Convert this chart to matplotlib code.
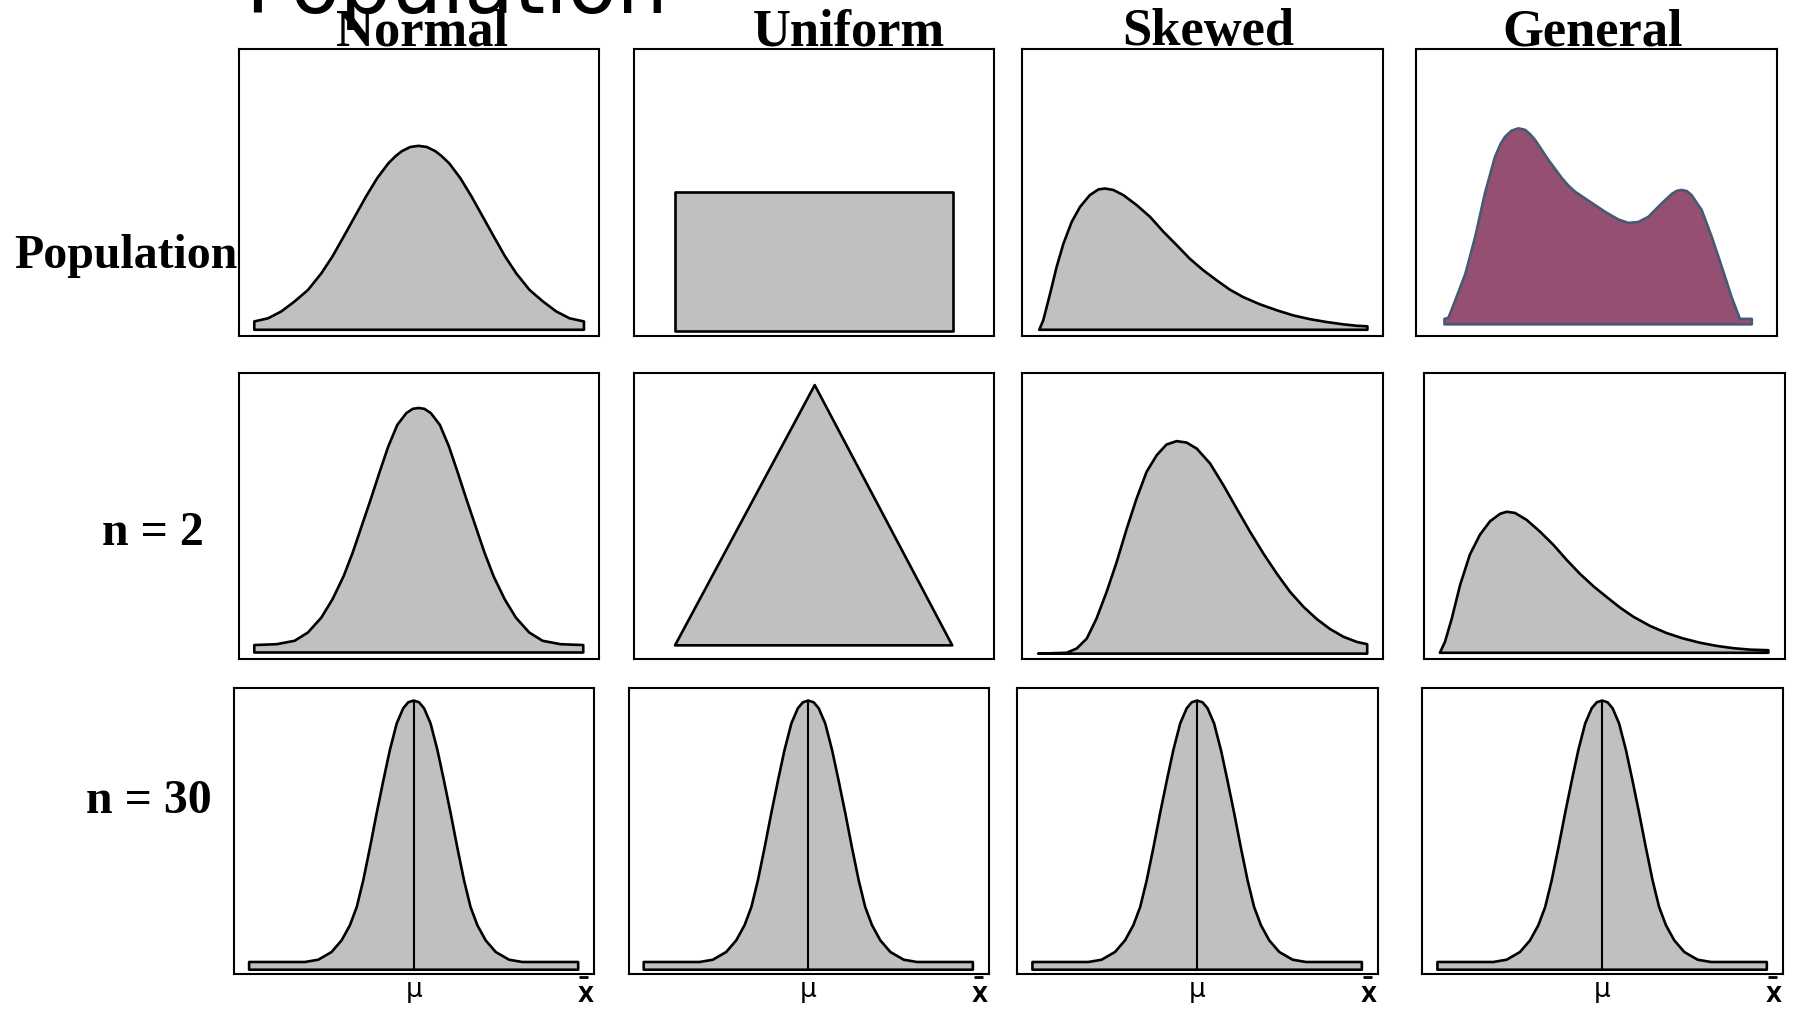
import matplotlib
matplotlib.use("Agg")

import matplotlib.pyplot as plt

# =========================================================
# DATA  (x = % of panel width, y = % of panel height)
# =========================================================

col_titles = ["Normal", "Uniform", "Skewed", "General"]
row_labels = ["Population", "n = 2", "n = 30"]
fig_title  = "Population"

# --- Population row ---
normal_pop_x = [4.3, 8.1, 11.8, 15.5, 19.2, 22.9, 26.0, 29.1, 32.2, 35.3, 38.4, 41.5,
                43.5, 45.2, 47.6, 49.9, 52.2, 54.6, 56.3, 58.4, 61.5, 64.6, 67.7,
                70.8, 73.9, 77.0, 80.7, 84.4, 88.1, 91.8, 95.8]
normal_pop_y = [4.9, 6.0, 8.4, 11.9, 15.9, 21.7, 27.6, 34.5, 41.5, 48.5, 54.9, 60.1,
                62.6, 64.3, 65.8, 66.2, 65.8, 64.3, 62.6, 60.1, 54.9, 48.5, 41.5,
                34.5, 27.6, 21.7, 15.9, 11.9, 8.4, 6.0, 4.9]
normal_pop_base = 2.0

uniform_pop_x = [11.5, 11.5, 88.6, 88.6]
uniform_pop_y = [1.7, 50.1, 50.1, 1.7]
uniform_pop_base = 1.7

skewed_pop_x = [4.7, 5.8, 7.7, 9.5, 11.4, 13.7, 16.0, 18.7, 21.1, 22.9, 25.2, 28.0,
                31.7, 35.4, 39.1, 42.8, 46.4, 50.1, 53.8, 57.5, 61.2, 65.8, 70.5,
                75.1, 79.7, 84.3, 88.9, 92.6, 95.6]
skewed_pop_y = [2.0, 5.3, 14.6, 23.9, 32.1, 39.7, 44.9, 49.0, 51.0, 51.3, 50.8, 49.0,
                45.5, 41.4, 36.2, 31.5, 26.8, 22.8, 19.3, 16.0, 13.4, 10.9, 8.8,
                7.0, 5.7, 4.7, 3.9, 3.4, 3.2]
skewed_pop_base = 2.0

general_pop_x = [7.9, 9.0, 10.9, 13.7, 16.4, 19.1, 21.9, 23.5, 24.7, 26.5, 28.4, 30.2,
                 31.6, 33.0, 36.7, 40.4, 42.2, 44.1, 48.7, 52.4, 56.1, 58.9, 61.6,
                 64.4, 68.1, 70.9, 72.3, 73.7, 75.1, 76.4, 79.2, 82.0, 84.8, 87.5,
                 89.8, 93.1]
general_pop_y = [5.8, 6.2, 12.3, 21.6, 34.4, 49.6, 62.4, 67.0, 69.4, 71.5, 72.3, 71.8,
                 70.3, 68.3, 61.3, 55.0, 52.4, 50.2, 46.3, 43.2, 40.5, 39.3, 39.6,
                 41.4, 46.1, 49.4, 50.5, 50.8, 50.4, 49.0, 43.8, 34.4, 23.9, 13.4,
                 5.8, 5.8]
general_pop_base = 3.9

# --- n = 2 row ---
normal_n2_x = [4.3, 10.5, 15.5, 19.2, 22.9, 26.0, 29.1, 31.6, 34.1, 36.6, 39.0, 41.5,
               44.0, 46.5, 48.3, 49.9, 51.5, 53.3, 55.8, 58.3, 60.8, 63.2, 65.7,
               68.2, 70.7, 73.8, 76.9, 80.6, 84.3, 89.3, 95.6]
normal_n2_y = [4.7, 5.0, 6.2, 9.1, 14.3, 20.7, 28.8, 37.0, 46.3, 55.6, 64.9, 74.2,
               81.7, 85.8, 87.3, 87.6, 87.3, 85.8, 81.7, 74.2, 64.9, 55.6, 46.3,
               37.0, 28.8, 20.7, 14.3, 9.1, 6.2, 5.0, 4.7]
normal_n2_base = 2.1

uniform_n2_x = [11.4, 50.2, 88.4]
uniform_n2_y = [4.6, 95.6, 4.6]
uniform_n2_base = 4.6

skewed_n2_x = [4.4, 12.3, 15.1, 17.9, 20.6, 23.4, 26.2, 29.0, 31.7, 34.5, 37.3, 40.0,
               42.8, 45.6, 48.4, 52.1, 55.8, 59.5, 63.2, 66.9, 70.6, 74.3, 78.0,
               81.7, 85.4, 89.1, 92.8, 95.7]
skewed_n2_y = [1.7, 2.0, 3.5, 7.0, 14.0, 23.3, 33.8, 45.5, 55.9, 65.3, 71.1, 74.8,
               76.0, 75.5, 73.4, 68.2, 60.6, 52.4, 44.3, 36.7, 29.7, 23.3, 18.1,
               13.8, 10.3, 7.6, 5.8, 5.0]
skewed_n2_base = 1.7

general_n2_x = [4.4, 5.8, 7.7, 10.0, 12.7, 15.5, 18.3, 21.1, 22.9, 25.2, 28.4, 32.1,
                35.8, 39.5, 43.2, 46.9, 50.6, 54.3, 58.0, 62.6, 67.2, 71.8, 76.5,
                81.1, 85.7, 90.3, 95.4]
general_n2_y = [2.0, 5.8, 14.0, 25.7, 36.3, 43.3, 48.0, 50.6, 51.3, 50.9, 48.5, 44.4,
                39.8, 34.5, 29.6, 25.3, 21.5, 17.8, 14.6, 11.4, 8.9, 7.0, 5.5,
                4.4, 3.6, 3.1, 2.9]
general_n2_base = 2.0

# --- n = 30 row (same sampling distribution in every column) ---
n30_x = [4.2, 19.7, 23.4, 27.1, 29.9, 32.2, 34.1, 35.9, 37.8, 39.6, 41.5, 43.3, 45.2,
         47.0, 48.4, 49.9, 51.4, 52.8, 54.6, 56.5, 58.3, 60.2, 62.0, 63.9, 65.7,
         67.6, 69.9, 72.7, 76.4, 80.1, 95.6]
n30_y = [4.1, 4.1, 4.9, 7.6, 11.7, 17.0, 23.4, 32.7, 44.4, 56.1, 67.8, 78.4, 87.7,
         93.0, 95.1, 95.7, 95.1, 93.0, 87.7, 78.4, 67.8, 56.1, 44.4, 32.7, 23.4,
         17.0, 11.7, 7.6, 4.9, 4.1, 4.1]
n30_base = 1.4

curves = [
    [(normal_pop_x, normal_pop_y, normal_pop_base),
     (uniform_pop_x, uniform_pop_y, uniform_pop_base),
     (skewed_pop_x, skewed_pop_y, skewed_pop_base),
     (general_pop_x, general_pop_y, general_pop_base)],
    [(normal_n2_x, normal_n2_y, normal_n2_base),
     (uniform_n2_x, uniform_n2_y, uniform_n2_base),
     (skewed_n2_x, skewed_n2_y, skewed_n2_base),
     (general_n2_x, general_n2_y, general_n2_base)],
    [(n30_x, n30_y, n30_base)] * 4,
]

# =========================================================
# LAYOUT / STYLE (pixel boxes of the panels: left, right, top, bottom)
# =========================================================

W, H = 1797, 1017

panel_boxes = [
    [(238.8, 599.1, 49, 335.5), (634, 994, 49, 335.5),
     (1022.3, 1383.3, 49, 335.5), (1416, 1776.7, 49, 335.5)],
    [(238.8, 599.1, 372.5, 658.5), (634, 994, 372.5, 658.5),
     (1022.3, 1382.7, 372.5, 658.5), (1424, 1785, 372.5, 658.5)],
    [(234, 594, 688.3, 973.7), (628.6, 988.7, 688.3, 973.7),
     (1017.3, 1377.7, 688.3, 973.7), (1422.3, 1782.7, 688.3, 973.7)],
]

GRAY_FILL    = "#C0C0C0"
GENERAL_FILL = "#954F72"
GENERAL_EDGE = "#465A72"

title_cx      = [422, 849, 1208, 1593]
row_label_pos = [(14, 268, "left"), (153, 545, "center"), (149, 813, "center")]

SERIF = ["Liberation Serif", "DejaVu Serif"]


def fx(px):
    return px / W


def fy(py):
    return 1 - py / H


fig = plt.figure(figsize=(W / 100, H / 100), dpi=100)

for r, row in enumerate(panel_boxes):
    for c, (l, rr, t, b) in enumerate(row):
        ax = fig.add_axes([fx(l), fy(b), fx(rr) - fx(l), (b - t) / H])
        ax.set_xlim(0, 100)
        ax.set_ylim(0, 100)
        ax.set_xticks([])
        ax.set_yticks([])
        for s in ax.spines.values():
            s.set_linewidth(1.5)
            s.set_color("black")

        xs, ys, base = curves[r][c]
        px = [xs[0]] + list(xs) + [xs[-1]]
        py = [base] + list(ys) + [base]

        if r == 0 and c == 3:
            fc, ec = GENERAL_FILL, GENERAL_EDGE
        else:
            fc, ec = GRAY_FILL, "black"
        ax.fill(px, py, facecolor=fc, edgecolor=ec, linewidth=1.9,
                joinstyle="round")

        # mean line and axis labels on the n = 30 row
        if r == 2:
            k = ys.index(max(ys))
            ax.plot([xs[k], xs[k]], [base, ys[k]], color="black", lw=1.5)
            ax.text(xs[k], -0.080, "\u03bc", transform=ax.get_xaxis_transform(),
                    ha="center", va="baseline", fontsize=19,
                    family="DejaVu Sans")
            ax.text(0.976, -0.099, "X", transform=ax.transAxes,
                    ha="center", va="baseline", fontsize=15, fontweight="bold",
                    family="DejaVu Sans")
            ax.plot([0.958, 0.983], [-0.010, -0.010], transform=ax.transAxes,
                    color="black", lw=2.0, clip_on=False, solid_capstyle="butt")

# =========================================================
# TEXT
# =========================================================

for name, cx in zip(col_titles, title_cx):
    fig.text(fx(cx), fy(45), name, ha="center", va="baseline",
             fontsize=37.8, fontweight="bold", family=SERIF)

for name, (x, y, ha) in zip(row_labels, row_label_pos):
    fig.text(fx(x), fy(y), name, ha=ha, va="baseline",
             fontsize=34.5, fontweight="bold", family=SERIF)

fig.text(fx(245), fy(13), fig_title, ha="left", va="baseline",
         fontsize=58, family="DejaVu Sans")

fig.savefig("out.png", dpi=100)
